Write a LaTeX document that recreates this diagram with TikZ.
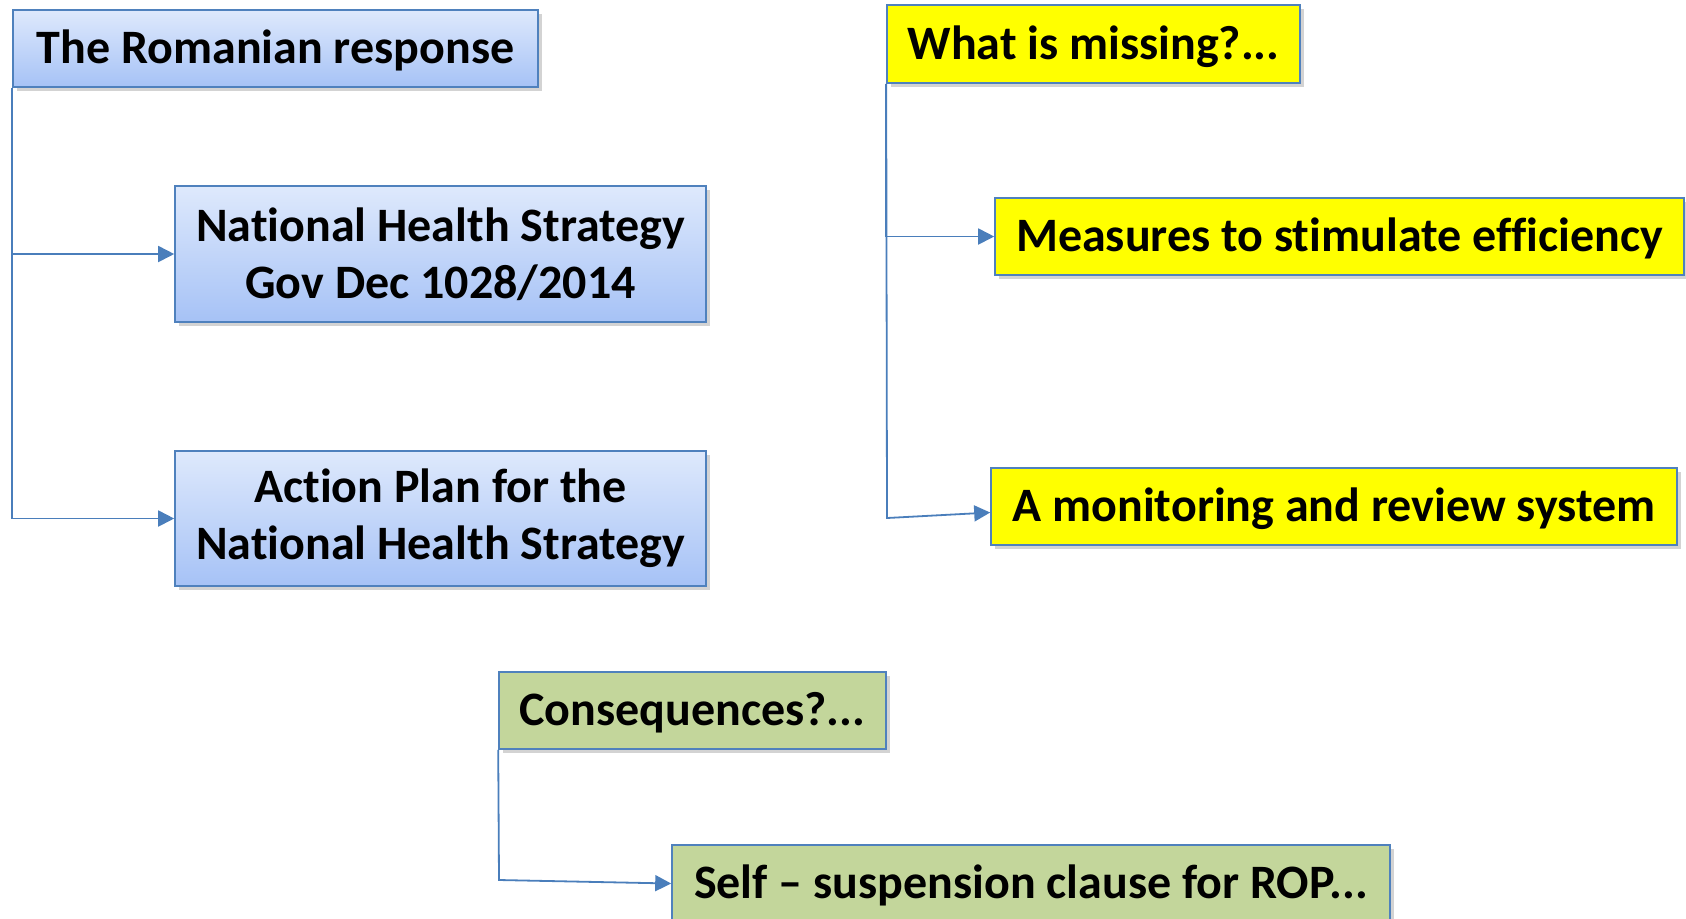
\documentclass[tikz,border=0pt]{standalone}
\usepackage{fontspec}
\setmainfont{Carlito}[Ligatures={TeX,NoCommon}]
\usetikzlibrary{positioning,calc,shadows,arrows.meta}
\definecolor{boxline}{HTML}{4F81BD}
\definecolor{linkline}{HTML}{4A7EBB}
\definecolor{bluetop}{HTML}{DEE9FC}
\definecolor{bluebot}{HTML}{A6C2F6}
\definecolor{brightyellow}{HTML}{FFFF00}
\definecolor{olive}{HTML}{C3D69B}
\tikzstyle{every node}=[font=\fontsize{24}{28.5}\selectfont\bfseries,align=center,inner sep=0pt]
\tikzstyle{box} = [draw=boxline,line width=0.8pt,drop shadow={shadow xshift=2pt,shadow yshift=-2pt,opacity=0.35}]
\tikzstyle{oneline} = [text height=19pt,text depth=4pt]
\tikzstyle{bluebox} = [box,top color=bluetop,bottom color=bluebot]
\tikzstyle{yellowbox} = [box,oneline,fill=brightyellow]
\tikzstyle{greenbox} = [box,oneline,fill=olive]
\tikzstyle{arrow} = [linkline,line width=0.9pt,-{Triangle[length=8pt,width=8pt]}]
\begin{document}
\begin{tikzpicture}[x=0.5pt,y=-0.5pt]
\useasboundingbox (0,0) rectangle (1686,918);

% left column
\node[bluebox,oneline,minimum width=262.5pt,minimum height=38.5pt] (romanian) at (275.5,48.5) {The Romanian response};
\node[bluebox,minimum width=265.5pt,minimum height=68pt] (nhs) at (440.5,254) {National Health Strategy\\Gov Dec 1028/2014};
\node[bluebox,minimum width=265.5pt,minimum height=67.5pt] (plan) at (440.5,518.5) {Action Plan for the\\National Health Strategy};

% right column
\node[yellowbox,minimum width=206.5pt,minimum height=39pt] (missing) at (1093.5,44) {What is missing?...};
\node[yellowbox,minimum width=344.5pt,minimum height=38.5pt] (efficiency) at (1339.5,236.5) {Measures to stimulate efficiency};
\node[yellowbox,minimum width=343pt,minimum height=38.5pt] (monitor) at (1334,506.5) {A monitoring and review system};

% bottom
\node[greenbox,minimum width=193.5pt,minimum height=38.5pt] (conseq) at (692.5,710.5) {Consequences?...};
\node[greenbox,minimum width=359pt,minimum height=38.5pt] (self) at (1031,883.5) {Self \textendash{} suspension clause for ROP...};

\coordinate (mcorner) at (887,518);
\coordinate (ccorner) at (499,880);

\draw[arrow] (romanian.south west) |- (nhs.west);
\draw[arrow] (romanian.south west) |- (plan.west);
\draw[arrow] (missing.south west) |- (efficiency.west);
\draw[arrow] (missing.south west) -- (mcorner) -- ([yshift=-3pt]monitor.west);
\draw[arrow] (conseq.south west) -- (ccorner) -- (self.west);
\end{tikzpicture}
\end{document}
